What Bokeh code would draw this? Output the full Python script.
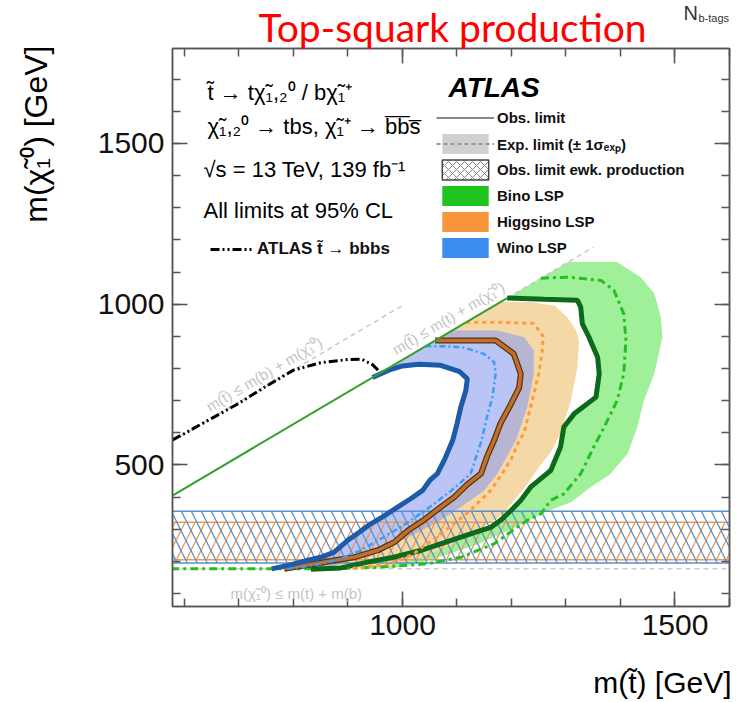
from math import pi, atan
from bokeh.plotting import figure
from bokeh.models import (Range1d, LinearAxis, FixedTicker, Label, Legend, LegendItem,
                          CustomJSTickFormatter)
from bokeh.embed import file_html
from bokeh.resources import INLINE

# ---------------- data ----------------
X_MIN, X_MAX = 578, 1600
Y_MIN, Y_MAX = 60, 1795
M_TOP, M_B = 173.0, 4.2
DIAG_END = 1350          # end of the m(t~)=m(t)+m(chi) dashed boundary
MB_LINE_END = 1000       # end of the m(t~)=m(b)+m(chi) dashed boundary

X_MAJOR = [1000, 1500]
X_MINOR = list(range(600, 1601, 100))
Y_MAJOR = [500, 1000, 1500]
Y_MINOR = list(range(100, 1800, 100))

# Wino LSP
WINO_OBS_X = [945, 975, 1000, 1030, 1070, 1105, 1119, 1116, 1107, 1100, 1092, 1078, 1064, 1050, 1037,
              1015, 991, 965, 942, 920, 899, 874, 850, 825, 790, 760]
WINO_OBS_Y = [772, 795, 808, 813, 810, 790, 768, 730, 680, 628, 576, 520, 473, 452, 421,
              395, 369, 340, 317, 290, 265, 228, 213, 203, 188, 177]
WINO_EXP_X = [1042, 1080, 1113, 1150, 1168, 1171, 1165, 1155, 1145, 1125, 1090, 1050, 1006, 960,
              923, 893, 874, 850, 820, 790]
WINO_EXP_Y = [869, 869, 865, 845, 820, 784, 711, 649, 576, 473, 421, 369, 317, 270,
              234, 213, 203, 193, 184, 178]
WINO_BAND_X = [1091, 1140, 1174, 1223, 1241, 1241, 1229, 1208, 1174, 1150, 1107, 1060, 1010, 960,
               920, 890, 860]
WINO_BAND_Y = [918, 918, 918, 898, 856, 784, 680, 576, 473, 421, 369, 317, 275, 240,
               212, 195, 178]

# Higgsino LSP
HIGG_OBS_X = [1060, 1100, 1171, 1204, 1217, 1214, 1196, 1180, 1168, 1156, 1144, 1119, 1095, 1070,
              1040, 1010, 985, 955, 911, 874, 840, 810, 783]
HIGG_OBS_Y = [887, 887, 887, 846, 784, 740, 680, 630, 576, 530, 473, 440, 400, 369,
              330, 296, 260, 235, 213, 203, 193, 185, 177]
HIGG_EXP_X = [1117, 1180, 1241, 1258, 1256, 1250, 1235, 1223, 1214, 1200, 1183, 1162, 1140, 1125,
              1094, 1064, 1040, 1021, 995, 972, 942, 923, 900]
HIGG_EXP_Y = [944, 944, 940, 900, 850, 784, 680, 600, 576, 520, 473, 421, 385, 359,
              317, 276, 250, 224, 205, 193, 185, 180, 178]
HIGG_BAND_X = [1180, 1235, 1280, 1302, 1318, 1324, 1321, 1309, 1290, 1272, 1250, 1229, 1200, 1186,
               1160, 1137, 1100, 1060, 1020, 985, 960]
HIGG_BAND_Y = [1007, 1007, 995, 960, 920, 887, 804, 701, 597, 540, 493, 440, 380, 348,
               320, 296, 260, 230, 205, 190, 178]

# Bino LSP
BINO_OBS_X = [1192, 1260, 1321, 1327, 1330, 1342, 1358, 1361, 1355, 1315, 1296, 1290, 1272, 1250,
              1235, 1217, 1200, 1180, 1162, 1143, 1107, 1070, 1033, 984, 936, 887, 832]
BINO_OBS_Y = [1019, 1015, 1012, 991, 939, 898, 835, 784, 711, 659, 618, 556, 483, 452,
              431, 390, 360, 328, 306, 296, 276, 255, 234, 213, 198, 180, 176]
BINO_EXP_X = [1254, 1303, 1364, 1388, 1406, 1410, 1406, 1394, 1370, 1351, 1327, 1296, 1272, 1254,
              1229, 1211, 1168, 1107, 1046, 954, 862, 578]
BINO_EXP_Y = [1081, 1084, 1074, 1043, 970, 887, 784, 701, 618, 556, 473, 410, 390, 348,
              328, 307, 255, 213, 193, 182, 177, 177]
BINO_BAND_X = [1304, 1394, 1437, 1462, 1474, 1477, 1462, 1443, 1431, 1413, 1380, 1345, 1310, 1254,
               1200, 1140, 1080, 1030, 985]
BINO_BAND_Y = [1131, 1131, 1084, 1033, 960, 898, 784, 701, 618, 535, 470, 431, 385, 348,
               300, 255, 220, 195, 180]

# previous ATLAS stop -> bbbs limit
BBBS_X = [578, 600, 650, 700, 750, 800, 850, 900, 925, 945, 958]
BBBS_Y = [578, 598, 645, 692, 745, 795, 818, 828, 829, 812, 790]

# electroweak-production limits (chi mass ranges)
EWK_WINO = (195, 356)
EWK_HIGG = (205, 322)

# colours
C_BINO, C_HIGG, C_WINO = "#1fc41f", "#f7953b", "#3b8ef0"

NAN = float("nan")

# ---------------- figure ----------------
W, H = 752, 702
FL, FR, FT, FB = 172, 729, 48, 606

p = figure(width=W, height=H, x_range=Range1d(X_MIN, X_MAX), y_range=Range1d(Y_MIN, Y_MAX),
           output_backend="svg", toolbar_location=None,
           min_border_left=FL, min_border_right=W - FR, min_border_top=FT, min_border_bottom=H - FB)
p.xgrid.visible = False
p.ygrid.visible = False
p.background_fill_color = "white"
p.border_fill_color = "white"
p.outline_line_color = "#555555"
p.outline_line_width = 1.5

AX = "#555555"
def style_axis(ax, labels=True):
    ax.axis_line_color = AX
    ax.axis_line_width = 1.5
    ax.major_tick_line_color = AX
    ax.minor_tick_line_color = AX
    ax.major_tick_line_width = 1.5
    ax.minor_tick_line_width = 1.5
    ax.major_tick_in = 15
    ax.major_tick_out = 0
    ax.minor_tick_in = 8
    ax.minor_tick_out = 0
    ax.major_label_text_font = "Liberation Sans"
    ax.major_label_text_font_size = "30px"
    ax.major_label_text_color = "#111111"
    if not labels:
        ax.formatter = CustomJSTickFormatter(code="return ''")
        ax.major_label_standoff = 0
        ax.major_label_text_font_size = "0px"

p.xaxis.ticker = FixedTicker(ticks=X_MAJOR, minor_ticks=X_MINOR)
p.yaxis.ticker = FixedTicker(ticks=Y_MAJOR, minor_ticks=Y_MINOR)
style_axis(p.xaxis[0])
style_axis(p.yaxis[0])
p.xaxis[0].major_label_standoff = 8
p.yaxis[0].major_label_standoff = 8

ax_r = LinearAxis(ticker=FixedTicker(ticks=Y_MAJOR, minor_ticks=Y_MINOR))
style_axis(ax_r, labels=False)
p.add_layout(ax_r, "right")
ax_t = LinearAxis(ticker=FixedTicker(ticks=X_MAJOR, minor_ticks=X_MINOR))
style_axis(ax_t, labels=False)
p.add_layout(ax_t, "above")

# ---------------- bands ----------------
def band(outer_x, outer_y, inner_x, inner_y):
    return list(outer_x) + list(inner_x)[::-1], list(outer_y) + list(inner_y)[::-1]

bx, by = band(BINO_BAND_X, BINO_BAND_Y, BINO_OBS_X, BINO_OBS_Y)
p.patch(bx, by, fill_color="#a0f09a", fill_alpha=1.0, line_color=None)
hx, hy = band(HIGG_BAND_X, HIGG_BAND_Y, HIGG_OBS_X, HIGG_OBS_Y)
p.patch(hx, hy, fill_color="#f4d8a6", fill_alpha=1.0, line_color=None)
wx, wy = band(WINO_BAND_X, WINO_BAND_Y, WINO_OBS_X, WINO_OBS_Y)
p.patch(wx, wy, fill_color="#8c9ff0", fill_alpha=0.6, line_color=None)

# electroweak hatched bands
p.quad(left=[X_MIN - 100], right=[X_MAX + 100], bottom=[EWK_HIGG[0]], top=[EWK_HIGG[1]],
       fill_color=None, line_color="#e99a55", line_width=1.5,
       hatch_pattern="right_diagonal_line", hatch_color="#e99a55", hatch_scale=20, hatch_weight=1.3)
p.quad(left=[X_MIN - 100], right=[X_MAX + 100], bottom=[EWK_WINO[0]], top=[EWK_WINO[1]],
       fill_color=None, line_color="#5a8fd0", line_width=1.5,
       hatch_pattern="left_diagonal_line", hatch_color="#5a8fd0", hatch_scale=20, hatch_weight=1.3)

# kinematic boundaries
p.line([X_MIN, X_MAX], [M_TOP + M_B, M_TOP + M_B], line_color="#cccccc", line_width=1.5, line_dash="5 4")
mb_x = [X_MIN, MB_LINE_END]
p.line(mb_x, [v - M_B for v in mb_x], line_color="#c8c8c8", line_width=1.5, line_dash="5 4")
dg_x = [BINO_OBS_X[0], DIAG_END]
p.line(dg_x, [v - M_TOP for v in dg_x], line_color="#c8c8c8", line_width=1.5, line_dash="5 4")

# expected / observed lines
p.line(BINO_EXP_X, BINO_EXP_Y, line_color="#22c022", line_width=3, line_dash="8 4 3 4")
p.line(BINO_OBS_X, BINO_OBS_Y, line_color="#0b6b1a", line_width=5)
p.line(HIGG_EXP_X, HIGG_EXP_Y, line_color="#ff9a3c", line_width=3, line_dash="4 4")
p.line(HIGG_OBS_X, HIGG_OBS_Y, line_color="#5a3010", line_width=6)
p.line(HIGG_OBS_X, HIGG_OBS_Y, line_color="#c0702a", line_width=3.5)
p.line(WINO_EXP_X, WINO_EXP_Y, line_color="#3d9df5", line_width=2.5, line_dash="6 3 2 3")
p.line(WINO_OBS_X, WINO_OBS_Y, line_color="#1d5aa8", line_width=5)

# green diagonal boundary
gd_x = [X_MIN, BINO_OBS_X[0]]
p.line(gd_x, [v - M_TOP for v in gd_x], line_color="#33a02c", line_width=2)

# ATLAS stop -> bbbs
p.line(BBBS_X, BBBS_Y, line_color="black", line_width=3, line_dash="9 3 2 3 2 3")

# ---------------- texts (canvas pixel positions) ----------------
def add_text(xp, yp, text, size, color="black", style="normal", align="left",
             baseline="middle", angle=0.0, font="Liberation Sans", place="center"):
    lab = Label(x=xp, y=yp, x_units="canvas", y_units="canvas", text=text,
                text_font_size=f"{size}px", text_color=color,
                text_font_style=style, text_align=align, text_baseline=baseline,
                angle=angle, text_font=font)
    p.add_layout(lab, place)

# outside the frame (side panels sized so the frame stays put)
add_text(452, 26, "Top-squark production", 39, color="#ff0000", align="center",
         font="Lato", place="above")
add_text(683, 12, "N", 20, color="#333333", baseline="alphabetic", place="left")
add_text(698, 17, "b-tags", 11, color="#333333", baseline="alphabetic", place="left")
add_text(35, 45, "m(χ̃₁⁰) [GeV]", 32, align="right", angle=pi / 2, place="left")
add_text(731, 682, "m(t̃) [GeV]", 30, align="right", place="below")

# inside the frame
add_text(207, 92, "t̃ → tχ̃₁,₂⁰ / bχ̃₁⁺", 22)
add_text(207, 126, "χ̃₁,₂⁰ → tbs, χ̃₁⁺ → b̅b̅s̅", 22)
add_text(203, 169, "√s = 13 TeV, 139 fb⁻¹", 22)
add_text(203, 210, "All limits at 95% CL", 22)
add_text(448, 87, "ATLAS", 28, style="bold italic")

slope = ((FB - FT) / (Y_MAX - Y_MIN)) / ((FR - FL) / (X_MAX - X_MIN))
ang = atan(slope)
add_text(207, 407, "m(t̃) ≤ m(b) + m(χ̃₁⁰)", 15, color="#c4c4c4", baseline="alphabetic", angle=ang)
add_text(393, 350, "m(t̃) ≤ m(t) + m(χ̃₁⁰)", 15, color="#c4c4c4", baseline="alphabetic", angle=ang)
add_text(230, 593, "m(χ̃₁⁰) ≤ m(t) + m(b)", 15, color="#c4c4c4", baseline="alphabetic")

# ---------------- legends ----------------
e = dict(left=[NAN], right=[NAN], top=[NAN], bottom=[NAN])
r_obs = p.line(x=[NAN], y=[NAN], line_color="#888888", line_width=2)
r_expbox = p.quad(**e, fill_color="#d0d0d0", line_color=None)
r_expline = p.line(x=[NAN], y=[NAN], line_color="#9a9a9a", line_width=2, line_dash="4 3")
r_ewk = p.quad(**e, fill_color="white", line_color="#444444", line_width=1.5,
               hatch_pattern="diagonal_cross", hatch_color="#888888", hatch_scale=8, hatch_weight=1)
r_bino = p.quad(**e, fill_color=C_BINO, line_color=None)
r_higg = p.quad(**e, fill_color=C_HIGG, line_color=None)
r_wino = p.quad(**e, fill_color=C_WINO, line_color=None)

leg = Legend(items=[
    LegendItem(label="Obs. limit", renderers=[r_obs]),
    LegendItem(label="Exp. limit (± 1σₑₓₚ)", renderers=[r_expbox, r_expline]),
    LegendItem(label="Obs. limit ewk. production", renderers=[r_ewk]),
    LegendItem(label="Bino LSP", renderers=[r_bino]),
    LegendItem(label="Higgsino LSP", renderers=[r_higg]),
    LegendItem(label="Wino LSP", renderers=[r_wino]),
], location=(264, 346), glyph_width=58, glyph_height=25, spacing=1, label_standoff=3,
   padding=0, margin=0, label_height=20, label_text_font_size="15px",
   label_text_font_style="bold", label_text_font="Liberation Sans", label_text_color="#111111",
   border_line_alpha=0, background_fill_alpha=0)
p.add_layout(leg)

r_bbbs = p.line(x=[NAN], y=[NAN], line_color="black", line_width=3, line_dash="9 3 2 3 2 3")
leg2 = Legend(items=[LegendItem(label="ATLAS t̃ → bbbs", renderers=[r_bbbs])],
              location=(38, 347), glyph_width=42, glyph_height=20, label_standoff=5,
              padding=0, margin=0, label_height=20, label_text_font_size="17px",
              label_text_font_style="bold", label_text_font="Liberation Sans",
              label_text_color="#111111",
              border_line_alpha=0, background_fill_alpha=0)
p.add_layout(leg2)

open("out.html", "w").write(file_html(p, INLINE))
